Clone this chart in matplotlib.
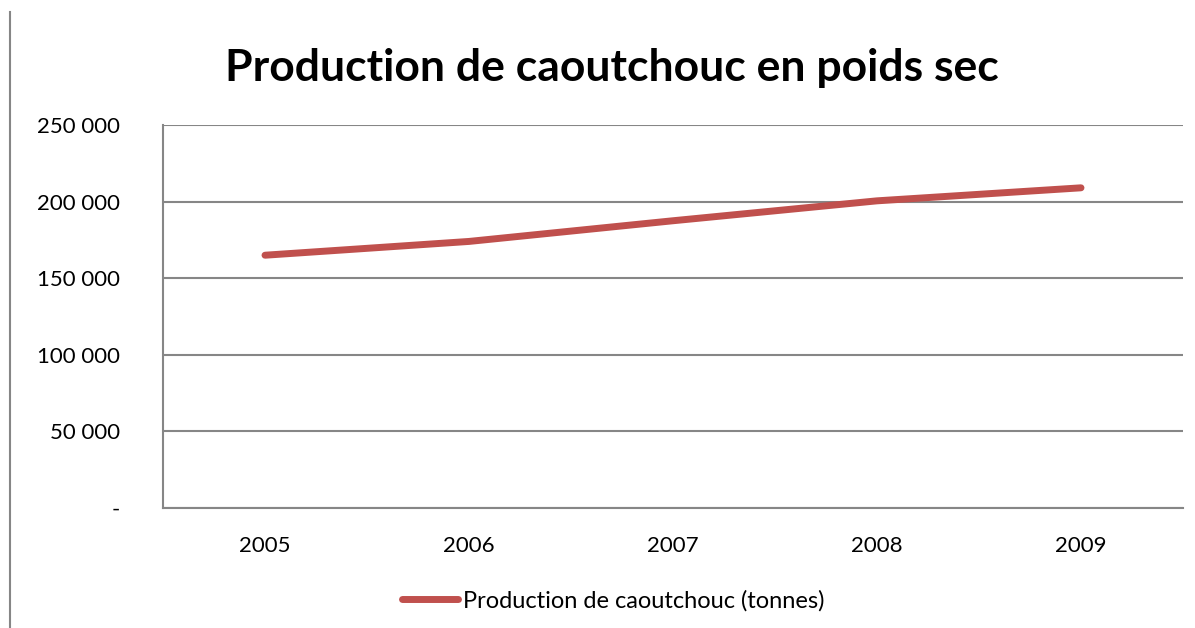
import matplotlib.pyplot as plt
from matplotlib.lines import Line2D
from matplotlib.ticker import FuncFormatter

# data
years = ['2005', '2006', '2007', '2008', '2009']
production = [165000, 174000, 187500, 200500, 209000]
y_ticks = [0, 50000, 100000, 150000, 200000, 250000]

plt.rcParams['font.family'] = ['Lato', 'DejaVu Sans']

fig = plt.figure(figsize=(11.95, 6.28), dpi=100)
ax = fig.add_axes([163 / 1195, 1 - 508 / 628, (1183 - 163) / 1195, (508 - 125) / 628])

x = range(len(years))
ax.plot(x, production, color='#C0504D', linewidth=5, solid_capstyle='round',
        solid_joinstyle='round', zorder=3)

ax.set_xlim(-0.5, len(years) - 0.5)
ax.set_ylim(0, 250000)
ax.set_xticks(list(x))
ax.set_xticklabels(years)
ax.set_yticks(y_ticks)


def fmt(v, pos):
    if v == 0:
        return '-'
    return '{:,}'.format(int(v)).replace(',', ' ')


ax.yaxis.set_major_formatter(FuncFormatter(fmt))
ax.tick_params(axis='both', length=0, labelsize=16, colors='black')
ax.tick_params(axis='y', pad=31)
ax.tick_params(axis='x', pad=20)

ax.grid(axis='y', color='#868686', linewidth=1.5)
ax.set_axisbelow(True)
for side in ['top', 'right']:
    ax.spines[side].set_visible(False)
for side in ['left', 'bottom']:
    ax.spines[side].set_color('#868686')
    ax.spines[side].set_linewidth(1.5)

fig.text(612 / 1195, 1 - 68 / 628, 'Production de caoutchouc en poids sec',
         ha='center', va='center', fontsize=32, fontweight='bold')

# chart area border on the left
fig.add_artist(Line2D([10 / 1195, 10 / 1195], [0, 1 - 12 / 628],
                      color='#868686', linewidth=1.5))

handle = Line2D([], [], color='#C0504D', linewidth=5, solid_capstyle='round')
fig.legend([handle], ['Production de caoutchouc (tonnes)'], loc='center',
           bbox_to_anchor=(613 / 1195, 1 - 601 / 628), frameon=False,
           fontsize=17, handlelength=2.4, handletextpad=0.2)

fig.savefig('out.png', dpi=100)
